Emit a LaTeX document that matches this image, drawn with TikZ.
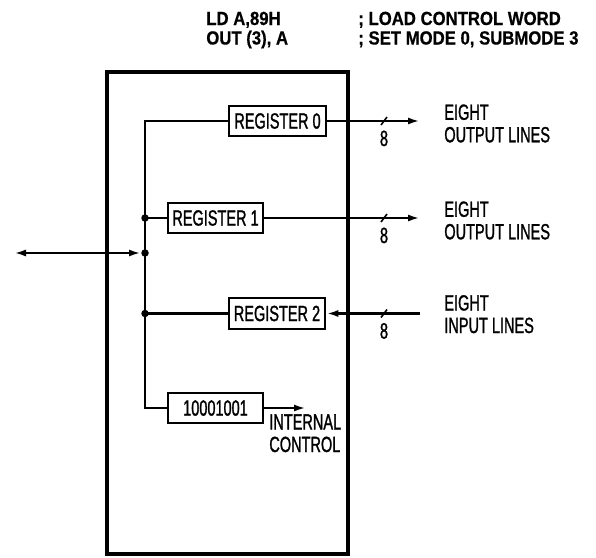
\documentclass[tikz,border=0pt]{standalone}
\usepackage{fontspec}
\setmainfont{Liberation Sans}
\newfontfamily\lblfont{Liberation Sans}[FakeStretch=0.66,FakeBold=1.2]
\newfontfamily\hdrfont{Liberation Sans}[FakeStretch=0.88,FakeBold=0.6]
\usetikzlibrary{arrows.meta}

\begin{document}
\begin{tikzpicture}[x=1pt,y=-1pt,line width=2.7pt,
  reg/.style={draw,rectangle,minimum height=30pt,inner sep=0pt,
    font=\lblfont\fontsize{22}{22}\selectfont},
  lbl/.style={align=left,inner sep=0pt,anchor=base west,
    font=\lblfont\fontsize{22}{22.5}\selectfont},
  hdr/.style={anchor=base west,inner sep=0pt,
    font=\hdrfont\bfseries\fontsize{19}{20}\selectfont},
  junc/.style={circle,fill,inner sep=0pt,minimum size=7.5pt},
  sigarrow/.style={-{Latex[length=12pt,width=7pt]}},
  width8/.style={anchor=base,inner sep=0pt,
    font=\lblfont\fontsize{22}{22}\selectfont}]
\useasboundingbox (0,0) rectangle (596,557);

% program lines
\node[hdr] (ld) at (205,25) {LD A,89H};
\node[hdr] (out) at (205,44.5) {OUT (3), A};
\node[hdr] (ldc) at (357,25) {; LOAD CONTROL WORD};
\node[hdr] (outc) at (357,44.5) {; SET MODE 0, SUBMODE 3};

% port chip
\node[draw,line width=3.2pt,minimum width=241pt,minimum height=482pt] (chip) at (227.5,313) {};

% registers
\node[reg,minimum width=97pt] (reg0) at (277.5,121) {REGISTER 0};
\node[reg,minimum width=95pt] (reg1) at (215.5,218) {REGISTER 1};
\node[reg,minimum width=96pt,minimum height=31pt] (reg2) at (277,313.5) {REGISTER 2};
\node[reg,minimum width=95pt] (ctrl) at (215.5,408) {10001001};

% internal bus
\coordinate (bustop) at (145,121);
\coordinate (busbot) at (145,408);
\coordinate (j1) at (145,218);
\coordinate (j2) at (145,253);
\coordinate (j3) at (145,313.5);
\coordinate (ext) at (14,253);
\draw (reg0.west) -- (bustop) -- (busbot) -- (ctrl.west);
\draw (j1) -- (reg1.west);
\draw (j3) -- (reg2.west);
\draw[{Latex[length=12pt,width=7pt]}-{Latex[length=12pt,width=7pt]},shorten >=4pt] (ext) -- (j2);
\node[junc] at (j1) {};
\node[junc] at (j2) {};
\node[junc] at (j3) {};

% port lines
\coordinate (out0) at (420,121);
\coordinate (out1) at (420,218);
\coordinate (in2) at (420,313.5);
\coordinate (ictl) at (306,408);
\draw[sigarrow] (reg0.east) -- (out0);
\draw[sigarrow] (reg1.east) -- (out1);
\draw[sigarrow] (in2) -- (reg2.east);
\draw[sigarrow] (ctrl.east) -- (ictl);

% width marks
\foreach \y/\n in {121/s0,218/s1,313.5/s2}{
  \draw[line width=1.6pt] (381,\y+4) -- (387,\y-4);
  \node[width8] (\n) at (384,\y+25) {8};
}

% labels
\node[lbl] (lab0) at (443,142.3) {EIGHT\\OUTPUT LINES};
\node[lbl] (lab1) at (443,239.3) {EIGHT\\OUTPUT LINES};
\node[lbl] (lab2) at (443,333) {EIGHT\\INPUT LINES};
\node[lbl] (labc) at (268,452) {INTERNAL\\CONTROL};
\end{tikzpicture}
\end{document}
